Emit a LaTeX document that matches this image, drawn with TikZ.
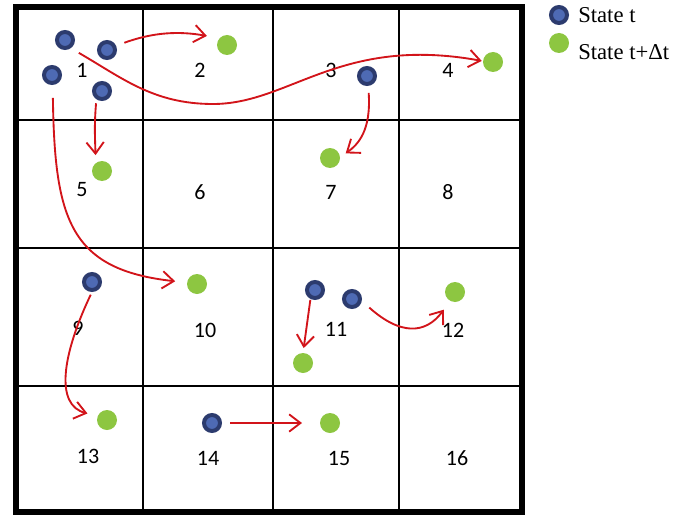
\documentclass[tikz,border=0pt]{standalone}
\usepackage{fontspec}
\newfontfamily\numfont{Carlito}
\newfontfamily\legfont{Liberation Serif}
\usetikzlibrary{arrows.meta}
\definecolor{navyring}{HTML}{2C3B6E}
\definecolor{navyfill}{HTML}{4E6AB4}
\definecolor{dotgreen}{HTML}{8DC641}
\definecolor{arrowred}{HTML}{D2141A}
\begin{document}
\begin{tikzpicture}[x=0.75pt,y=0.75pt,
  bluedot/.style={circle,draw=navyring,fill=navyfill,line width=3pt,minimum size=12pt,inner sep=0pt,outer sep=1.5pt},
  greendot/.style={circle,fill=dotgreen,minimum size=15pt,inner sep=0pt,outer sep=0pt},
  cellnum/.style={font=\numfont\fontsize{16.5}{18}\selectfont,inner sep=0pt},
  legtext/.style={font=\legfont\fontsize{17}{19}\selectfont,inner sep=0pt,anchor=west},
  move/.style={draw=arrowred,line width=1.4pt,-{Straight Barb[length=8.5pt,width=13pt,line width=1.4pt]}},
  gridline/.style={line width=2.2pt},
  border/.style={line width=3.8pt}]
\useasboundingbox (0,0) rectangle (691,515);
% grid
\draw[gridline] (143,3) -- (143,508) (273,3) -- (273,508) (399,3) -- (399,508);
\draw[gridline] (16,395) -- (522,395) (16,267) -- (522,267) (16,129) -- (522,129);
\draw[border] (16,3) rectangle (522,508);
% cell numbers
\node[cellnum] (n1) at (82,445) {1};
\node[cellnum] (n2) at (200,445) {2};
\node[cellnum] (n3) at (331,445) {3};
\node[cellnum] (n4) at (448,445) {4};
\node[cellnum] (n5) at (82,325) {5};
\node[cellnum] (n6) at (200,323) {6};
\node[cellnum] (n7) at (331,323) {7};
\node[cellnum] (n8) at (448,323) {8};
\node[cellnum] (n9) at (78,187) {9};
\node[cellnum] (n10) at (205,185) {10};
\node[cellnum] (n11) at (336,186) {11};
\node[cellnum] (n12) at (453,185) {12};
\node[cellnum] (n13) at (88,59) {13};
\node[cellnum] (n14) at (208,57) {14};
\node[cellnum] (n15) at (339,57) {15};
\node[cellnum] (n16) at (457,57) {16};
% states at t
\node[bluedot] (b1) at (65,475) {};
\node[bluedot] (b2) at (107,465) {};
\node[bluedot] (b3) at (52,440) {};
\node[bluedot] (b4) at (102,424) {};
\node[bluedot] (b5) at (367,439) {};
\node[bluedot] (b6) at (92,233) {};
\node[bluedot] (b7) at (212,92) {};
\node[bluedot] (b8) at (315,225) {};
\node[bluedot] (b9) at (352,216) {};
% states at t+dt
\node[greendot] (g1) at (227,470) {};
\node[greendot] (g2) at (493,453) {};
\node[greendot] (g3) at (330,357) {};
\node[greendot] (g4) at (102,344) {};
\node[greendot] (g5) at (197,231) {};
\node[greendot] (g6) at (107,95) {};
\node[greendot] (g7) at (455,223) {};
\node[greendot] (g8) at (303,152) {};
\node[greendot] (g9) at (330,92) {};
% moves
\draw[move,shorten <=6.6pt,shorten >=9.75pt] (b2.25) to[out=20,in=170] (g1.137);
\draw[move,shorten <=7pt,shorten >=1pt] (b1.-55) to[out=-30,in=180] (213,411)
   .. controls (290,411) and (340,480) .. (g2.175);
\draw[move,shorten <=3pt,shorten >=6pt] (b4.-124) to[out=-95,in=92] (g4.128);
\draw[move,shorten <=9.75pt,shorten >=9pt] (b3.-86) .. controls +(2,-135) and +(-117,13) .. (g5.172);
\draw[move,shorten <=5.25pt,shorten >=5.25pt] (b5.-83) .. controls +(3,-45) and +(18,13) .. (g3.3);
\draw[move,shorten <=2.25pt,shorten >=8pt] (b6.-90) .. controls +(-30,-63) and +(-43,11) .. (g6.157);
\draw[move,shorten <=6pt,shorten >=13.5pt] (b7.east) -- (g9.west);
\draw[move,shorten <=0.75pt,shorten >=3.75pt] (b8.-117) -- (g8.90);
\draw[move,shorten <=7.5pt,shorten >=8.25pt] (b9.-11) .. controls +(38,-34) and +(-25,-34) .. (g7.-118);
% legend
\node[bluedot] (lb) at (559,500) {};
\node[legtext] (lbt) at (578,500) {State t};
\node[greendot] (lg) at (559,472) {};
\node[legtext] (lgt) at (578,463) {State t+Δt};
\end{tikzpicture}
\end{document}
